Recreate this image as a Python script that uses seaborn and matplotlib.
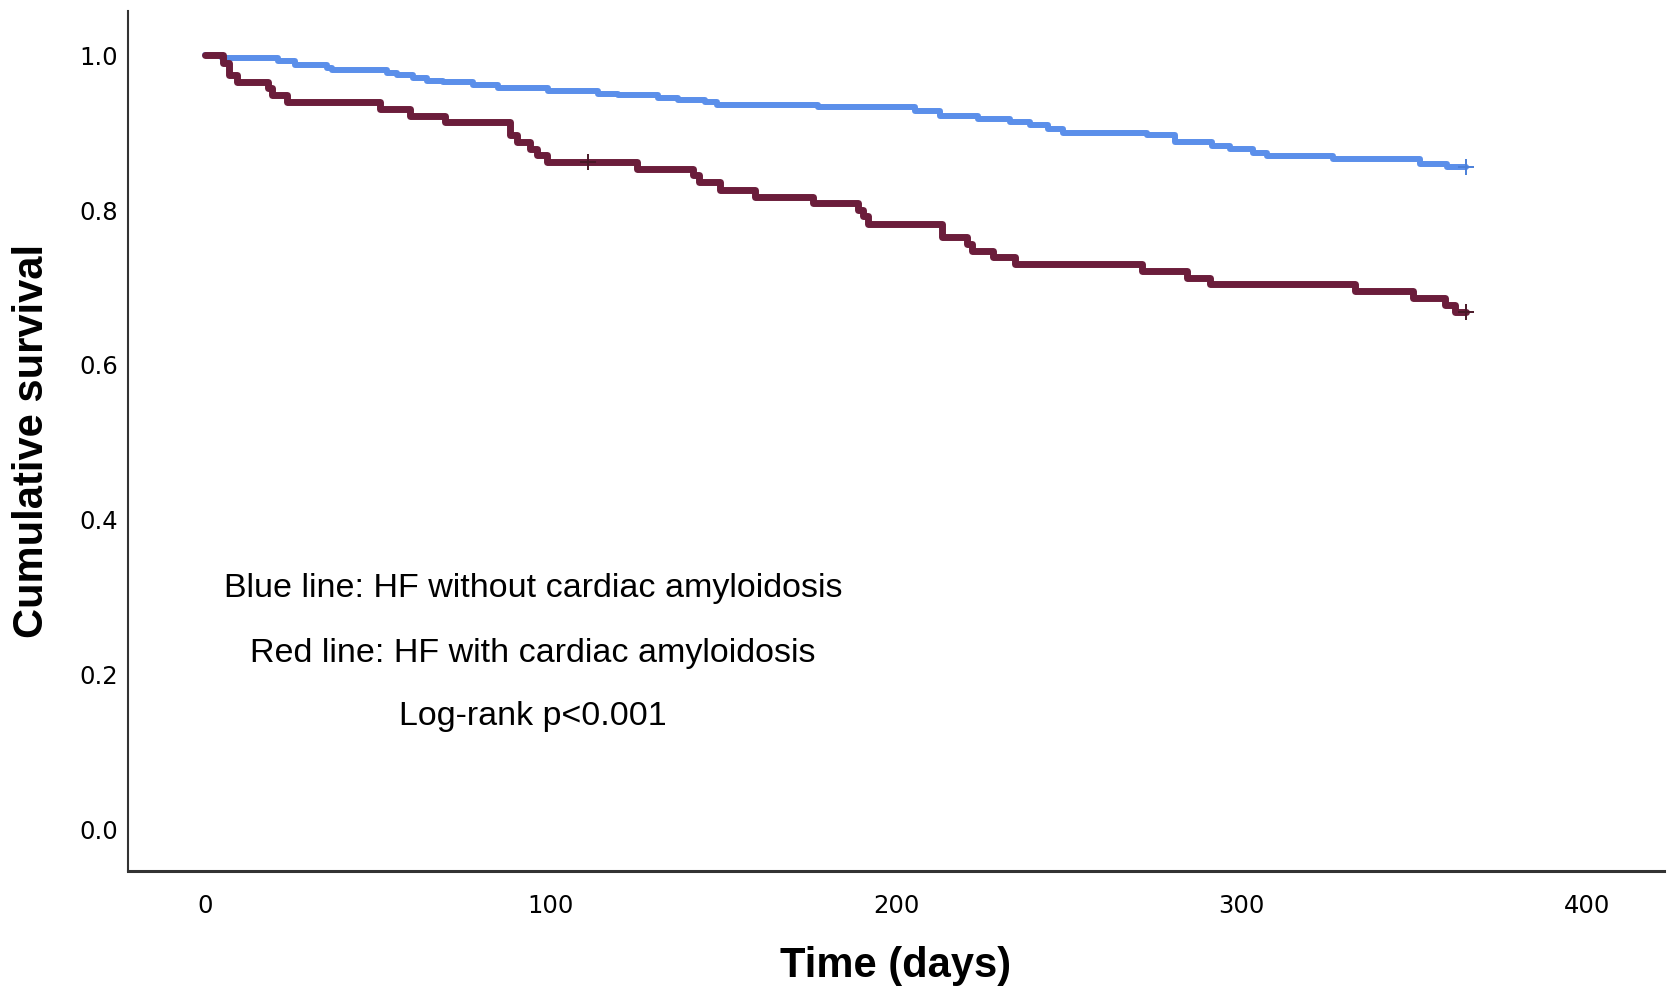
import seaborn as sns
from matplotlib import pyplot as plt
import pandas as pd

# Kaplan-Meier steps (time in days -> survival after that time)
blue_time = [0, 5, 21.2, 26, 35.2, 36.7, 52.6, 55.5, 60.3, 64.2, 69, 77.7, 84.9, 99.4,
             113.8, 119.4, 131.2, 137, 144.7, 148.1, 177.5, 205.5, 212.7, 223.8, 233,
             238.8, 244, 248.4, 272.6, 280.8, 291.4, 296.7, 303.4, 307.3, 326.6, 351.7,
             359.4, 365]
blue_surv = [1.0, 0.996, 0.992, 0.987, 0.983, 0.981, 0.977, 0.974, 0.971, 0.967, 0.965,
             0.962, 0.957, 0.953, 0.950, 0.948, 0.945, 0.942, 0.940, 0.935, 0.933, 0.928,
             0.922, 0.917, 0.914, 0.910, 0.905, 0.900, 0.897, 0.888, 0.882, 0.879, 0.874,
             0.870, 0.866, 0.860, 0.855, 0.855]

red_time = [0, 5.3, 6.8, 9.2, 18.3, 19.3, 23.6, 50.7, 59.3, 69.5, 88.3, 90.2, 94, 96,
            98.9, 125, 141.3, 143, 149, 159.2, 176, 189, 190.5, 192, 213.2, 220.5, 222,
            228.2, 234.4, 271.1, 284.1, 290.9, 332.9, 349.7, 358.9, 361.8, 365]
red_surv = [1.0, 0.990, 0.974, 0.965, 0.957, 0.948, 0.940, 0.931, 0.922, 0.914, 0.897,
            0.888, 0.879, 0.871, 0.862, 0.853, 0.845, 0.836, 0.826, 0.817, 0.809, 0.800,
            0.792, 0.782, 0.765, 0.756, 0.747, 0.739, 0.730, 0.721, 0.712, 0.704, 0.695,
            0.686, 0.678, 0.669, 0.669]

# censored observations (+ marks)
blue_cens_time = [365]
blue_cens_surv = [0.855]
red_cens_time = [111, 365]
red_cens_surv = [0.862, 0.669]

x_ticks = [0, 100, 200, 300, 400]
y_ticks = [0.0, 0.2, 0.4, 0.6, 0.8, 1.0]

notes = ["Blue line: HF without cardiac amyloidosis",
         "Red line: HF with cardiac amyloidosis",
         "Log-rank p<0.001"]
note_y = [0.312, 0.228, 0.146]

BLUE = '#5B8FEA'
RED = '#6B1D3B'

sns.set_style('white')
plt.rcParams['font.family'] = ['DejaVu Sans']

blue_df = pd.DataFrame({'time': blue_time, 'survival': blue_surv})
red_df = pd.DataFrame({'time': red_time, 'survival': red_surv})

fig = plt.figure(figsize=(16.75, 9.93), dpi=100)
ax = fig.add_axes([0.0764, 0.123, 0.917, 0.866])

sns.lineplot(data=blue_df, x='time', y='survival', ax=ax, color=BLUE, linewidth=4.3,
             drawstyle='steps-post', estimator=None, sort=False)
sns.lineplot(data=red_df, x='time', y='survival', ax=ax, color=RED, linewidth=5.0,
             drawstyle='steps-post', estimator=None, sort=False)

ax.plot(blue_cens_time, blue_cens_surv, linestyle='none', marker='+', markersize=12,
        markeredgewidth=1.4, color='#4A7FD8')
ax.plot(red_cens_time, red_cens_surv, linestyle='none', marker='+', markersize=12,
        markeredgewidth=1.4, color='#4A1828')

for txt, yy in zip(notes, note_y):
    ax.text(95, yy, txt, ha='center', va='center', fontsize=24.5,
            family=['Liberation Sans', 'DejaVu Sans'], color='black')

ax.set_xlim(-22.3, 422.3)
ax.set_ylim(-0.053, 1.057)
ax.set_xticks(x_ticks)
ax.set_yticks(y_ticks)
ax.set_yticklabels([f'{v:.1f}' for v in y_ticks])
ax.tick_params(axis='both', length=0, labelsize=17.5, colors='black')
ax.tick_params(axis='x', pad=17)
ax.tick_params(axis='y', pad=7)

ax.set_xlabel('Time (days)', fontsize=30, fontweight='bold', color='black',
              family=['Liberation Sans', 'DejaVu Sans'], labelpad=20)
ax.set_ylabel('Cumulative survival', fontsize=30, fontweight='bold', color='black',
              family=['Liberation Sans', 'DejaVu Sans'], labelpad=20)

sns.despine(ax=ax)
ax.spines['left'].set_color('#333333')
ax.spines['left'].set_linewidth(1.5)
ax.spines['bottom'].set_color('#333333')
ax.spines['bottom'].set_linewidth(2.2)

plt.savefig('out.png', dpi=100)
